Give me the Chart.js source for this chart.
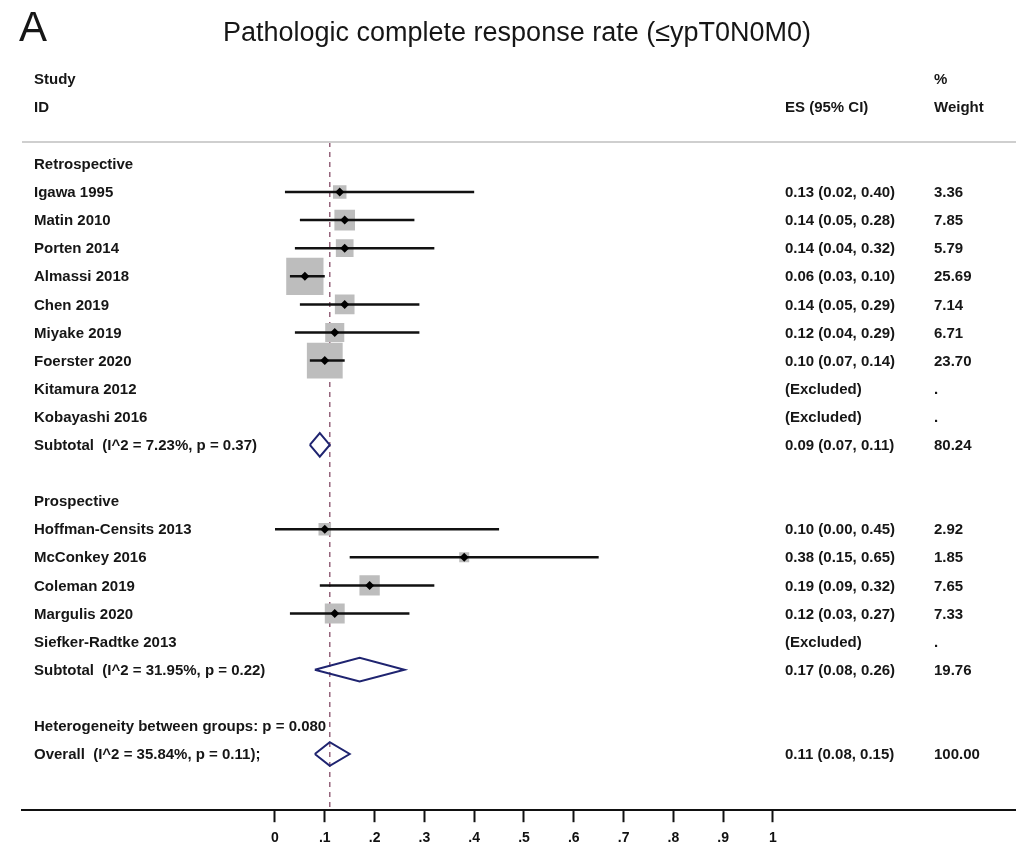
<!DOCTYPE html>
<html>
<head>
<meta charset="utf-8">
<script src="https://cdn.jsdelivr.net/npm/chart.js@4"></script>
<style>
  html, body { margin: 0; padding: 0; background: #fff; overflow: hidden; }
  canvas { display: block; }
</style>
</head>
<body>
<canvas id="myChart" width="1016" height="848"></canvas>
<script>
'use strict';

// rows, top to bottom (blank strings are spacer rows)
const rowLabels = [
    'Retrospective', 'Igawa 1995', 'Matin 2010', 'Porten 2014', 'Almassi 2018',
    'Chen 2019', 'Miyake 2019', 'Foerster 2020', 'Kitamura 2012', 'Kobayashi 2016',
    'Subtotal  (I^2 = 7.23%, p = 0.37)', '',
    'Prospective', 'Hoffman-Censits 2013', 'McConkey 2016', 'Coleman 2019',
    'Margulis 2020', 'Siefker-Radtke 2013', 'Subtotal  (I^2 = 31.95%, p = 0.22)', '',
    'Heterogeneity between groups: p = 0.080', 'Overall  (I^2 = 35.84%, p = 0.11);'
];
const rowKinds = [
    'group', 'study', 'study', 'study', 'study', 'study', 'study', 'study', 'excluded', 'excluded',
    'pooled', 'blank',
    'group', 'study', 'study', 'study', 'study', 'excluded', 'pooled', 'blank',
    'note', 'pooled'
];
const estimates = [null, 0.13, 0.14, 0.14, 0.06, 0.14, 0.12, 0.10, null, null, 0.09, null,
    null, 0.10, 0.38, 0.19, 0.12, null, 0.17, null, null, 0.11];
const lowerCI = [null, 0.02, 0.05, 0.04, 0.03, 0.05, 0.04, 0.07, null, null, 0.07, null,
    null, 0.00, 0.15, 0.09, 0.03, null, 0.08, null, null, 0.08];
const upperCI = [null, 0.40, 0.28, 0.32, 0.10, 0.29, 0.29, 0.14, null, null, 0.11, null,
    null, 0.45, 0.65, 0.32, 0.27, null, 0.26, null, null, 0.15];
const weights = [null, 3.36, 7.85, 5.79, 25.69, 7.14, 6.71, 23.70, null, null, 80.24, null,
    null, 2.92, 1.85, 7.65, 7.33, null, 19.76, null, null, 100.00];
const esLabels = ['', '0.13 (0.02, 0.40)', '0.14 (0.05, 0.28)', '0.14 (0.04, 0.32)', '0.06 (0.03, 0.10)',
    '0.14 (0.05, 0.29)', '0.12 (0.04, 0.29)', '0.10 (0.07, 0.14)', '(Excluded)', '(Excluded)',
    '0.09 (0.07, 0.11)', '', '', '0.10 (0.00, 0.45)', '0.38 (0.15, 0.65)', '0.19 (0.09, 0.32)',
    '0.12 (0.03, 0.27)', '(Excluded)', '0.17 (0.08, 0.26)', '', '', '0.11 (0.08, 0.15)'];
const weightLabels = ['', '3.36', '7.85', '5.79', '25.69', '7.14', '6.71', '23.70', '.', '.',
    '80.24', '', '', '2.92', '1.85', '7.65', '7.33', '.', '19.76', '', '', '100.00'];
const overallES = 0.11;
const tickValues = [0, 0.1, 0.2, 0.3, 0.4, 0.5, 0.6, 0.7, 0.8, 0.9, 1];

const titleText = 'Pathologic complete response rate (\u2264ypT0N0M0)';
const FONT = '"Liberation Sans", Arial, sans-serif';

// y runs over row indices; header rows sit at -3 / -2
const Y_MIN = -0.78, Y_MAX = 23;

// build marks from the arrays
const ciLine = [], boxes = [], boxRadius = [], markers = [], diamonds = [];
rowKinds.forEach((kind, i) => {
    if (kind === 'study') {
        ciLine.push({x: lowerCI[i], y: i}, {x: upperCI[i], y: i}, {x: null, y: null});
        boxes.push({x: estimates[i], y: i});
        boxRadius.push(5.2 * Math.sqrt(weights[i]));
        markers.push({x: estimates[i], y: i});
    } else if (kind === 'pooled') {
        const h = 0.42;
        diamonds.push({x: lowerCI[i], y: i}, {x: estimates[i], y: i - h},
            {x: upperCI[i], y: i}, {x: estimates[i], y: i + h},
            {x: lowerCI[i], y: i}, {x: null, y: null});
    }
});

const forestText = {
    id: 'forestText',
    afterDraw(chart) {
        const {ctx, chartArea, scales: {y}} = chart;
        ctx.save();
        ctx.fillStyle = '#161616';

        ctx.font = '42px ' + FONT;
        ctx.textAlign = 'left';
        ctx.textBaseline = 'alphabetic';
        ctx.fillText('A', 19, 41);
        ctx.font = '27px ' + FONT;
        ctx.textAlign = 'center';
        ctx.fillText(titleText, 517, 41);

        // rule under the header
        ctx.strokeStyle = '#cfcfcf';
        ctx.lineWidth = 2;
        ctx.beginPath();
        ctx.moveTo(chartArea.left, chartArea.top);
        ctx.lineTo(chartArea.right, chartArea.top);
        ctx.stroke();

        ctx.font = 'bold 15px ' + FONT;
        ctx.textAlign = 'left';
        ctx.textBaseline = 'middle';
        ctx.fillText('Study', 34, y.getPixelForValue(-3));
        ctx.fillText('ID', 34, y.getPixelForValue(-2));
        ctx.fillText('ES (95% CI)', 785, y.getPixelForValue(-2));
        ctx.fillText('%', 934, y.getPixelForValue(-3));
        ctx.fillText('Weight', 934, y.getPixelForValue(-2));

        rowLabels.forEach((label, i) => {
            const py = y.getPixelForValue(i) + 1;
            ctx.fillText(label, 34, py);
            ctx.fillText(esLabels[i], 785, py);
            ctx.fillText(weightLabels[i], 934, py);
        });
        ctx.restore();
    }
};

const ctx = document.getElementById('myChart').getContext('2d');

const myChart = new Chart(ctx, {
    type: 'scatter',
    data: {
        datasets: [{
            label: 'estimate',
            data: markers,
            pointStyle: 'rectRot',
            pointRadius: 4.5,
            backgroundColor: '#000',
            borderWidth: 0
        }, {
            label: 'ci',
            data: ciLine,
            showLine: true,
            spanGaps: false,
            pointRadius: 0,
            borderColor: '#111',
            borderWidth: 2.5
        }, {
            label: 'pooled',
            data: diamonds,
            showLine: true,
            spanGaps: false,
            pointRadius: 0,
            tension: 0,
            borderColor: '#1f2470',
            borderWidth: 2,
            borderJoinStyle: 'miter'
        }, {
            label: 'weight',
            data: boxes,
            pointStyle: 'rect',
            pointRadius: boxRadius,
            backgroundColor: '#bdbdbd',
            borderWidth: 0
        }, {
            label: 'overall',
            data: [{x: overallES, y: Y_MIN}, {x: overallES, y: Y_MAX}],
            showLine: true,
            pointRadius: 0,
            borderColor: '#96647c',
            borderWidth: 1.5,
            borderDash: [5, 5]
        }]
    },
    options: {
        responsive: false,
        animation: false,
        layout: {
            autoPadding: false,
            padding: {top: 142, left: 22, right: 0, bottom: -7}
        },
        plugins: {
            legend: {display: false},
            tooltip: {enabled: false}
        },
        scales: {
            x: {
                type: 'linear',
                min: -0.508,
                max: 1.488,
                afterBuildTicks: (scale) => {
                    scale.ticks = tickValues.map(v => ({value: v}));
                },
                ticks: {
                    padding: 8,
                    color: '#111',
                    font: {family: FONT, size: 14, weight: 'bold'},
                    callback: (v) => (v === 0 || v === 1) ? String(v) : v.toFixed(1).replace(/^0/, '')
                },
                grid: {
                    drawOnChartArea: false,
                    tickLength: 12,
                    tickWidth: 2,
                    tickColor: '#111'
                },
                border: {color: '#111', width: 2}
            },
            y: {
                type: 'linear',
                display: false,
                reverse: true,
                min: Y_MIN,
                max: Y_MAX
            }
        }
    },
    plugins: [forestText]
});
</script>
</body>
</html>
